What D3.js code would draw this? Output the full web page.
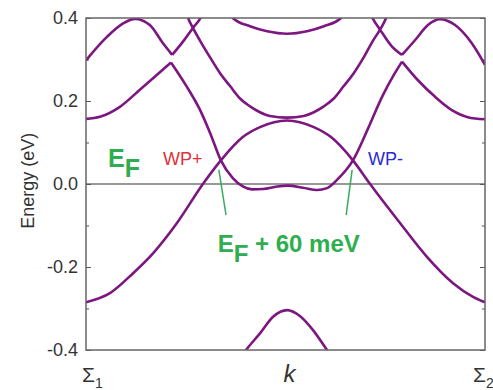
<!DOCTYPE html>
<html>
<head>
<meta charset="utf-8">
<script src="https://cdn.jsdelivr.net/npm/d3@7"></script>
<style>
  body { margin: 0; background: #fff; }
  svg { font-family: Arial, "Liberation Sans", Helvetica, sans-serif; }
</style>
</head>
<body>
<div id="chart"></div>
<script>
// energy bands, [k, E(eV)], k runs from Sigma1 (0) to Sigma2 (1)
// curves are split where the bands have a sharp cusp
var bandA = [
  [0.000, -0.285], [0.060, -0.263], [0.118, -0.215], [0.168, -0.167], [0.228, -0.094],
  [0.293, 0.000], [0.338, 0.057], [0.393, 0.113], [0.436, 0.137], [0.504, 0.153],
  [0.571, 0.137], [0.614, 0.113], [0.669, 0.057], [0.712, 0.000], [0.787, -0.094],
  [0.855, -0.176], [0.920, -0.239], [0.970, -0.272], [1.000, -0.285]
];
var bandB1 = [
  [0.000, 0.157], [0.035, 0.162], [0.085, 0.186], [0.135, 0.227], [0.178, 0.263], [0.213, 0.293]
];
var bandB2 = [
  [0.213, 0.293], [0.253, 0.234], [0.286, 0.178], [0.311, 0.123], [0.338, 0.057],
  [0.368, 0.014], [0.393, -0.006], [0.416, -0.013], [0.444, -0.012], [0.479, -0.006],
  [0.506, -0.004], [0.544, -0.009], [0.579, -0.0145], [0.604, -0.010], [0.629, 0.010],
  [0.669, 0.057], [0.707, 0.134], [0.742, 0.210], [0.774, 0.267], [0.792, 0.295]
];
var bandB3 = [
  [0.792, 0.295], [0.832, 0.250], [0.875, 0.210], [0.917, 0.178], [0.957, 0.161], [1.000, 0.156]
];
var bandC1 = [
  [0.000, 0.298], [0.053, 0.355], [0.093, 0.387], [0.123, 0.398], [0.160, 0.383],
  [0.193, 0.339], [0.216, 0.311]
];
var bandC2 = [
  [0.216, 0.311], [0.243, 0.343], [0.268, 0.376], [0.288, 0.402], [0.300, 0.430]
];
var bandC3 = [
  [0.705, 0.430], [0.717, 0.402], [0.737, 0.372], [0.767, 0.331], [0.792, 0.311]
];
var bandC4 = [
  [0.792, 0.311], [0.825, 0.347], [0.857, 0.383], [0.887, 0.397], [0.925, 0.383],
  [0.967, 0.339], [1.000, 0.287]
];
var bandD = [
  [0.250, 0.420], [0.256, 0.400], [0.268, 0.376], [0.286, 0.345], [0.311, 0.305],
  [0.336, 0.267], [0.361, 0.236], [0.386, 0.206], [0.411, 0.187], [0.436, 0.173],
  [0.461, 0.164], [0.504, 0.160], [0.546, 0.164], [0.571, 0.173], [0.596, 0.187],
  [0.621, 0.206], [0.646, 0.236], [0.671, 0.267], [0.696, 0.305], [0.719, 0.345],
  [0.737, 0.372], [0.752, 0.400], [0.759, 0.420]
];
var bandE = [
  [0.361, 0.420], [0.368, 0.400], [0.411, 0.380], [0.454, 0.368], [0.504, 0.362],
  [0.554, 0.368], [0.596, 0.380], [0.639, 0.400], [0.647, 0.420]
];
var bandF = [
  [0.386, -0.420], [0.401, -0.400], [0.436, -0.360], [0.469, -0.320], [0.504, -0.304],
  [0.536, -0.318], [0.569, -0.352], [0.604, -0.400], [0.619, -0.420]
];
var bands = [bandA, bandB1, bandB2, bandB3, bandC1, bandC2, bandC3, bandC4, bandD, bandE, bandF];

var yTicks = [-0.4, -0.2, 0.0, 0.2, 0.4];
var yMinorTicks = [-0.3, -0.1, 0.1, 0.3];
var xLabelPos = [0, 0.5, 1];
var xLabelMain = ["\u03A3", "k", "\u03A3"];
var xLabelSub = ["1", "", "2"];

// leader lines from the Weyl points to the E_F + 60 meV note
var leaders = [
  [[0.333, 0.034], [0.351, -0.075]],
  [[0.667, 0.034], [0.652, -0.075]]
];

var margin = {top: 18, right: 8, bottom: 40, left: 86},
    width = 493 - margin.left - margin.right,
    height = 390 - margin.top - margin.bottom;

var x = d3.scaleLinear().domain([0, 1]).range([0, width]);
var y = d3.scaleLinear().domain([-0.4, 0.4]).range([height, 0]);

var svg = d3.select("#chart").append("svg")
    .attr("width", 493)
    .attr("height", 390);

var g = svg.append("g")
    .attr("transform", "translate(" + margin.left + "," + margin.top + ")");

g.append("clipPath").attr("id", "plotclip")
  .append("rect").attr("width", width).attr("height", height);

// zero line
g.append("line")
    .attr("x1", 0).attr("x2", width)
    .attr("y1", y(0)).attr("y2", y(0))
    .attr("stroke", "#333").attr("stroke-width", 1.2);

// axes, ticks point inward
var left = g.append("g")
    .call(d3.axisLeft(y).tickValues(yTicks).tickSize(-5).tickPadding(8));
left.select(".domain").remove();
left.selectAll("line").attr("stroke", "#555");
left.selectAll("text").attr("font-size", 18).attr("fill", "#333")
    .attr("font-family", "Arial, 'Liberation Sans', sans-serif")
    .text(function(d) { return d3.format(".1f")(d).replace("\u2212", "-"); });

var leftMinor = g.append("g")
    .call(d3.axisLeft(y).tickValues(yMinorTicks).tickSize(-3).tickFormat(""));
leftMinor.select(".domain").remove();
leftMinor.selectAll("line").attr("stroke", "#555");

var right = g.append("g").attr("transform", "translate(" + width + ",0)")
    .call(d3.axisRight(y).tickValues(yTicks).tickSize(-5).tickFormat(""));
right.select(".domain").remove();
right.selectAll("line").attr("stroke", "#555");

var rightMinor = g.append("g").attr("transform", "translate(" + width + ",0)")
    .call(d3.axisRight(y).tickValues(yMinorTicks).tickSize(-3).tickFormat(""));
rightMinor.select(".domain").remove();
rightMinor.selectAll("line").attr("stroke", "#555");

// bands
var line = d3.line()
    .x(function(d) { return x(d[0]); })
    .y(function(d) { return y(d[1]); })
    .curve(d3.curveMonotoneX);

g.append("g").attr("clip-path", "url(#plotclip)")
  .selectAll("path").data(bands).enter().append("path")
    .attr("d", line)
    .attr("fill", "none")
    .attr("stroke", "#7c1680")
    .attr("stroke-width", 2.6)
    .attr("stroke-linejoin", "round");

// frame
g.append("rect")
    .attr("width", width).attr("height", height)
    .attr("fill", "none").attr("stroke", "#666").attr("stroke-width", 1.5);

// leader lines
g.selectAll(".leader").data(leaders).enter().append("path")
    .attr("class", "leader")
    .attr("d", d3.line().x(function(d) { return x(d[0]); }).y(function(d) { return y(d[1]); }))
    .attr("stroke", "#3aaa62").attr("stroke-width", 1.5).attr("fill", "none");

// annotations
var ef = g.append("text")
    .attr("x", x(0.055)).attr("y", y(0.041))
    .attr("font-size", 25).attr("font-weight", "bold").attr("fill", "#2eae4e");
ef.append("tspan").text("E");
ef.append("tspan").attr("dy", 10).text("F");

var ef60 = g.append("text")
    .attr("x", x(0.330)).attr("y", y(-0.165))
    .attr("font-size", 24).attr("font-weight", "bold").attr("fill", "#2eae4e");
ef60.append("tspan").text("E");
ef60.append("tspan").attr("dy", 10).text("F");
ef60.append("tspan").attr("dy", -10).text(" + 60 meV");

g.append("text")
    .attr("x", x(0.193)).attr("y", y(0.045))
    .attr("font-size", 18).attr("fill", "#e0323a")
    .text("WP+");

g.append("text")
    .attr("x", x(0.707)).attr("y", y(0.045))
    .attr("font-size", 18).attr("fill", "#2a2ad2")
    .text("WP-");

// axis titles
g.append("text")
    .attr("transform", "translate(" + (-52) + "," + y(0.008) + ") rotate(-90)")
    .attr("text-anchor", "middle")
    .attr("font-size", 18).attr("fill", "#333")
    .text("Energy (eV)");

var xl = g.selectAll(".xlab").data(xLabelPos).enter().append("text")
    .attr("class", "xlab")
    .attr("x", function(d, i) { return x(d) + (i === 0 ? -4 : i === 1 ? 4 : -12); })
    .attr("y", height + 32)
    .attr("text-anchor", function(d, i) { return i === 1 ? "middle" : "start"; })
    .attr("fill", "#333");
xl.append("tspan")
    .attr("font-size", function(d, i) { return i === 1 ? 24 : 21; })
    .attr("font-style", function(d, i) { return i === 1 ? "italic" : "normal"; })
    .text(function(d, i) { return xLabelMain[i]; });
xl.append("tspan")
    .attr("font-size", 14).attr("dy", 6)
    .text(function(d, i) { return xLabelSub[i]; });
</script>
</body>
</html>
